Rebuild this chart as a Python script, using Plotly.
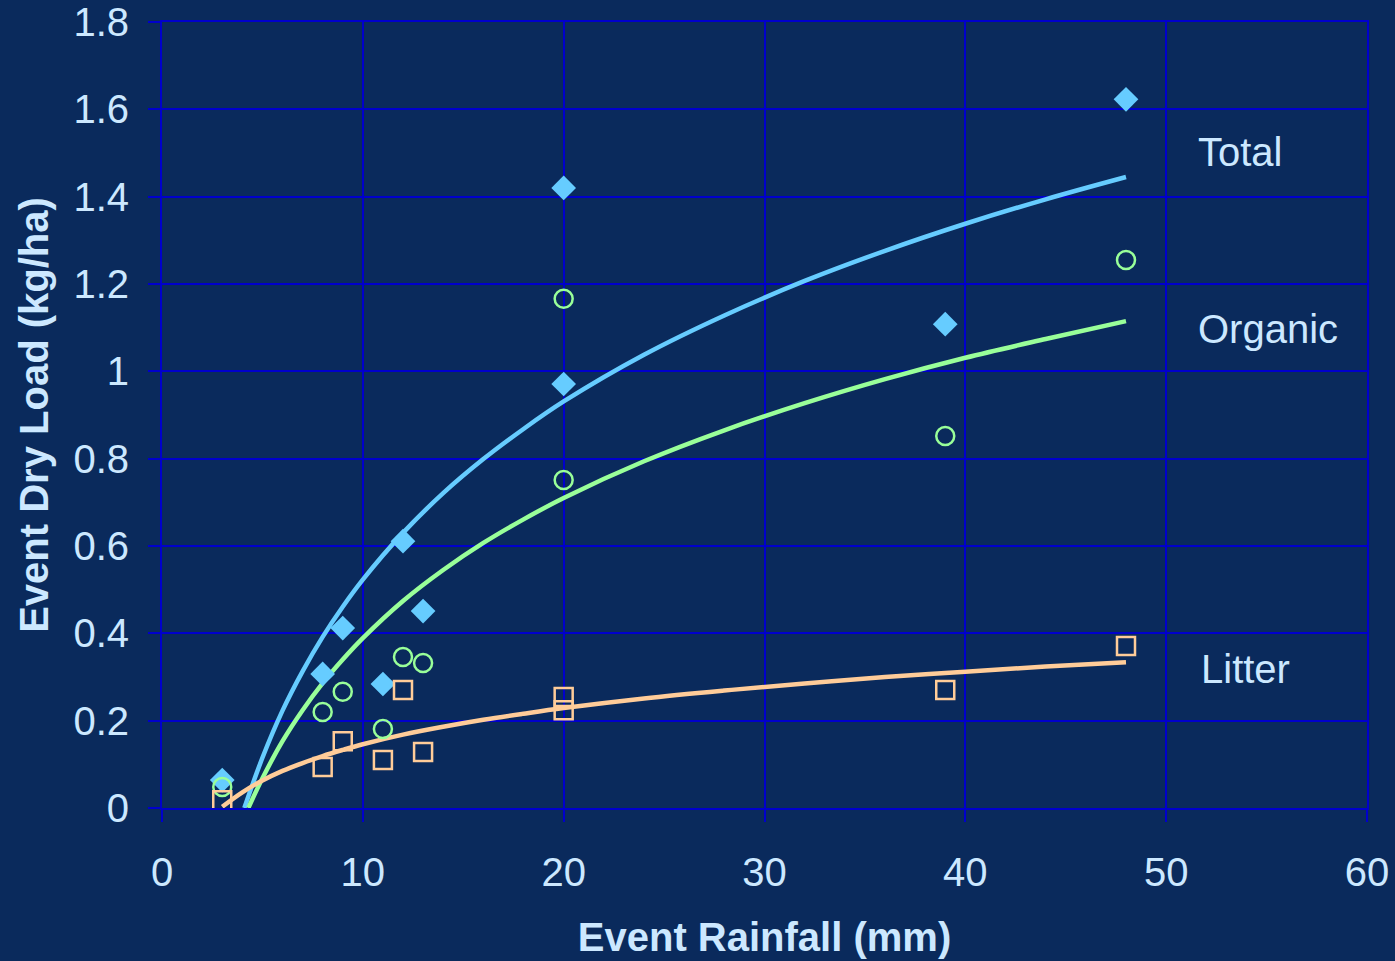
import plotly.graph_objects as go

# Observed points
rain = [3, 8, 9, 11, 12, 13, 20, 20, 39, 48]
total_obs = [0.064, 0.307, 0.412, 0.284, 0.611, 0.451, 1.420, 0.971, 1.108, 1.623]
rain_org = [3, 8, 9, 11, 12, 13, 20, 20, 39, 48]
organic_obs = [0.048, 0.220, 0.266, 0.181, 0.346, 0.332, 1.166, 0.751, 0.852, 1.255]
rain_lit = [3, 8, 9, 11, 12, 13, 20, 20, 39, 48]
litter_obs = [0.018, 0.094, 0.153, 0.110, 0.270, 0.128, 0.254, 0.224, 0.270, 0.371]

# Fitted curves
total_fit_x = [4.1, 5, 6, 7, 8, 9, 10, 12, 14, 16, 18, 20, 24, 28, 32, 36, 40, 44, 48]
total_fit_y = [0.0, 0.115, 0.223, 0.313, 0.392, 0.461, 0.523, 0.630, 0.721, 0.799, 0.868,
               0.931, 1.038, 1.128, 1.207, 1.276, 1.338, 1.394, 1.445]
organic_fit_x = [4.3, 5, 6, 7, 8, 9, 10, 12, 14, 16, 18, 20, 24, 28, 32, 36, 40, 44, 48]
organic_fit_y = [0.0, 0.068, 0.153, 0.224, 0.286, 0.340, 0.389, 0.474, 0.545, 0.607, 0.661,
                 0.710, 0.794, 0.865, 0.927, 0.982, 1.031, 1.074, 1.115]
litter_fit_x = [3, 4, 5, 6, 7, 8, 9, 10, 12, 14, 16, 18, 20, 24, 28, 32, 36, 40, 44, 48]
litter_fit_y = [0.003, 0.036, 0.063, 0.085, 0.103, 0.119, 0.133, 0.146, 0.168, 0.186, 0.202,
                0.216, 0.229, 0.251, 0.269, 0.285, 0.300, 0.312, 0.324, 0.334]

labels = ["Total", "Organic", "Litter"]
label_x = [51.5, 51.5, 51.65]
label_y = [1.502, 1.097, 0.318]

BG = "#0A2A5C"
GRID = "#0000CC"
TXT = "#CCE8FF"
C_TOT = "#66CCFF"
C_ORG = "#99FF99"
C_LIT = "#FFCC99"
FONT = "Liberation Sans, Arial"

fig = go.Figure()
fig.add_trace(go.Scatter(x=total_fit_x, y=total_fit_y, mode="lines",
                         line=dict(color=C_TOT, width=4.5, shape="spline"), showlegend=False))
fig.add_trace(go.Scatter(x=organic_fit_x, y=organic_fit_y, mode="lines",
                         line=dict(color=C_ORG, width=4.5, shape="spline"), showlegend=False))
fig.add_trace(go.Scatter(x=litter_fit_x, y=litter_fit_y, mode="lines",
                         line=dict(color=C_LIT, width=4.5, shape="spline"), showlegend=False))
fig.add_trace(go.Scatter(x=rain, y=total_obs, mode="markers",
                         marker=dict(symbol="diamond", size=19, color=C_TOT), showlegend=False))
fig.add_trace(go.Scatter(x=rain_org, y=organic_obs, mode="markers",
                         marker=dict(symbol="circle-open", size=18, color=C_ORG,
                                     line=dict(color=C_ORG, width=2.5)), showlegend=False))
fig.add_trace(go.Scatter(x=rain_lit, y=litter_obs, mode="markers",
                         marker=dict(symbol="square-open", size=18, color=C_LIT,
                                     line=dict(color=C_LIT, width=2.5)), showlegend=False))

for t, xx, yy in zip(labels, label_x, label_y):
    fig.add_annotation(x=xx, y=yy, text=t, showarrow=False, xanchor="left", yanchor="middle",
                       font=dict(size=40, color=TXT, family=FONT))

fig.update_layout(
    width=1395, height=961,
    margin=dict(l=162, r=28, t=22, b=153, autoexpand=False),
    paper_bgcolor=BG, plot_bgcolor=BG,
    font=dict(family=FONT, color=TXT, size=40),
)
fig.update_xaxes(range=[0, 60], dtick=10, tick0=0, showgrid=True, gridcolor=GRID, gridwidth=1.5,
                 zeroline=False, showline=True, linecolor=GRID, linewidth=2, mirror=True,
                 ticks="outside", ticklen=12, tickcolor=GRID, tickwidth=1.5,
                 ticklabelstandoff=16, automargin=False,
                 tickfont=dict(size=40, color=TXT),
                 title=dict(text="<b>Event Rainfall (mm)</b>", font=dict(size=40, color=TXT), standoff=30))
fig.update_yaxes(range=[0, 1.8], dtick=0.2, tick0=0, showgrid=True, gridcolor=GRID, gridwidth=1.5,
                 zeroline=False, showline=True, linecolor=GRID, linewidth=2, mirror=True,
                 ticks="outside", ticklen=12, tickcolor=GRID, tickwidth=1.5,
                 ticklabelstandoff=11, automargin=False,
                 tickfont=dict(size=40, color=TXT),
                 title=dict(text="<b>Event Dry Load (kg/ha)</b>", font=dict(size=40, color=TXT), standoff=12))

fig.write_html("out.html", config={"displayModeBar": False},
               post_script="document.body.style.margin='0';document.body.style.background='#0A2A5C';document.body.style.overflow='hidden';")
